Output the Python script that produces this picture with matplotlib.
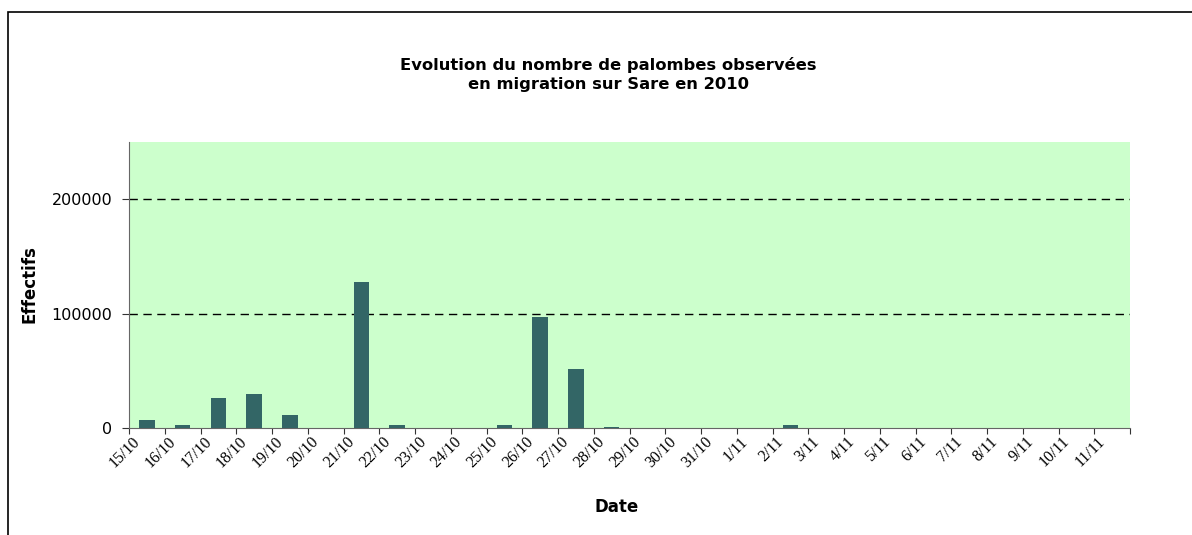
import matplotlib.pyplot as plt
from matplotlib.patches import Rectangle
from matplotlib.transforms import ScaledTranslation
import numpy as np

# daily counts of wood pigeons seen on migration at Sare, autumn 2010
dates = [
    "15/10", "16/10", "17/10", "18/10", "19/10", "20/10", "21/10",
    "22/10", "23/10", "24/10", "25/10", "26/10", "27/10", "28/10",
    "29/10", "30/10", "31/10", "1/11", "2/11", "3/11", "4/11",
    "5/11", "6/11", "7/11", "8/11", "9/11", "10/11", "11/11",
]
counts = [
    7300, 2200, 26000, 30000, 11000, 0, 127500,
    2200, 0, 0, 3000, 97000, 52000, 1200,
    0, 0, 0, 0, 3000, 0, 0,
    0, 0, 0, 0, 0, 0, 0,
]
y_ticks = [0, 100000, 200000]

BAR_COLOR = "#336666"
BG_COLOR = "#CCFFCC"
SANS = "DejaVu Sans"
SERIF = "Liberation Serif"

fig = plt.figure(figsize=(11.92, 5.35), dpi=100)
ax = fig.add_axes([129 / 1192, 1 - 428 / 535, 1001 / 1192, (428 - 142.3) / 535])

# outer chart frame (runs past the right/bottom edge in the original)
fig.patches.append(Rectangle((8 / 1192, -0.05), 1.1, 1 - 12 / 535 + 0.05,
                             transform=fig.transFigure, fill=False,
                             edgecolor="black", linewidth=1.2))

x = np.arange(len(dates))
ax.set_facecolor(BG_COLOR)
ax.bar(x, counts, width=0.43, color=BAR_COLOR, zorder=3)

ax.set_xlim(-0.5, len(dates) - 0.5)
ax.set_ylim(0, 250000)

for y in y_ticks[1:]:
    ax.axhline(y, color="black", linestyle=(0, (6, 4)), linewidth=1.0, zorder=2)

# category labels sit on the boundary ticks, Excel style
ax.set_xticks(np.arange(len(dates) + 1) - 0.5)
ax.set_xticklabels(dates + [""], rotation=45, ha="right", va="top",
                   rotation_mode="anchor", fontfamily=SERIF, fontsize=11.5)
ax.tick_params(axis="x", direction="out", length=4, color="#333333", pad=0)
shift = ScaledTranslation(3 / 100, 0, fig.dpi_scale_trans)
for lbl in ax.get_xticklabels():
    lbl.set_transform(lbl.get_transform() + shift)

ax.set_yticks(y_ticks)
ax.set_yticklabels([str(v) for v in y_ticks], fontfamily=SANS, fontsize=11.5)
ax.tick_params(axis="y", direction="out", length=5, color="#333333", pad=7)

for side in ["top", "right"]:
    ax.spines[side].set_visible(False)
ax.spines["left"].set_color("#666666")
ax.spines["bottom"].set_color("#666666")

fig.text(608 / 1192, 1 - 65 / 535, "Evolution du nombre de palombes observées",
         ha="center", va="center", fontfamily=SANS, fontweight="bold", fontsize=11.8)
fig.text(608 / 1192, 1 - 85 / 535, "en migration sur Sare en 2010",
         ha="center", va="center", fontfamily=SANS, fontweight="bold", fontsize=11.8)
fig.text(617 / 1192, 1 - 507 / 535, "Date", ha="center", va="center",
         fontfamily=SANS, fontweight="bold", fontsize=12)
fig.text(30 / 1192, 1 - 284 / 535, "Effectifs", ha="center", va="center",
         rotation=90, fontfamily=SANS, fontweight="bold", fontsize=12)

fig.savefig("out.png", dpi=100)
